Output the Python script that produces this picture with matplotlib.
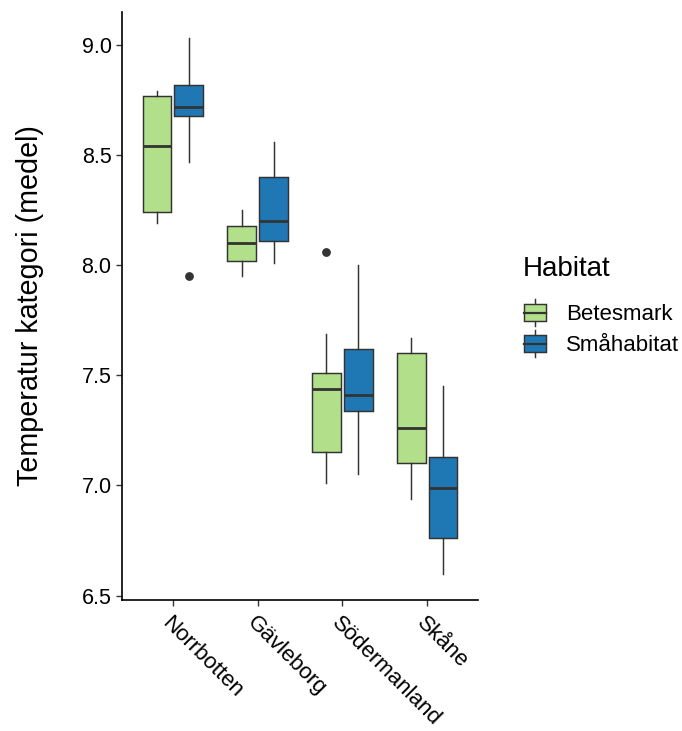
import matplotlib.pyplot as plt
from matplotlib.legend_handler import HandlerBase
from matplotlib.patches import Rectangle
from matplotlib.lines import Line2D

plt.rcParams['font.family'] = ['Liberation Sans', 'DejaVu Sans']

regions = ['Norrbotten', 'Gävleborg', 'Södermanland', 'Skåne']
habitats = ['Betesmark', 'Småhabitat']
colors = ['#B2DF8A', '#1F78B4']

# five-number summaries per region, one list per habitat
whislo = {'Betesmark': [8.19, 7.95, 7.01, 6.94], 'Småhabitat': [8.47, 8.01, 7.05, 6.60]}
q1 = {'Betesmark': [8.24, 8.02, 7.15, 7.10], 'Småhabitat': [8.68, 8.11, 7.34, 6.76]}
med = {'Betesmark': [8.54, 8.10, 7.44, 7.26], 'Småhabitat': [8.72, 8.20, 7.41, 6.99]}
q3 = {'Betesmark': [8.77, 8.18, 7.51, 7.60], 'Småhabitat': [8.82, 8.40, 7.62, 7.13]}
whishi = {'Betesmark': [8.79, 8.25, 7.69, 7.67], 'Småhabitat': [9.03, 8.56, 8.00, 7.45]}
fliers = {'Betesmark': [[], [], [8.06], []], 'Småhabitat': [[7.95], [], [], []]}

yticks = [6.5, 7.0, 7.5, 8.0, 8.5, 9.0]

edge = '#333333'

fig = plt.figure(figsize=(6.82, 7.31), dpi=100)
ax = fig.add_axes([122 / 682, 131 / 731, 356 / 682, 588 / 731])

dodge = 0.1875
for k, hab in enumerate(habitats):
    stats = []
    for i in range(len(regions)):
        stats.append(dict(whislo=whislo[hab][i], q1=q1[hab][i], med=med[hab][i],
                          q3=q3[hab][i], whishi=whishi[hab][i], fliers=fliers[hab][i]))
    pos = [i + 1 + (k * 2 - 1) * dodge for i in range(len(regions))]
    ax.bxp(stats, positions=pos, widths=0.34, patch_artist=True, showcaps=False,
           boxprops=dict(facecolor=colors[k], edgecolor=edge, linewidth=1.05),
           medianprops=dict(color=edge, linewidth=2.0, solid_capstyle='butt'),
           whiskerprops=dict(color=edge, linewidth=1.05),
           flierprops=dict(marker='o', markerfacecolor=edge, markeredgecolor=edge,
                           markersize=5.3))

ax.set_xlim(0.4, 4.6)
ax.set_ylim(6.48, 9.15)
ax.set_xticks(range(1, len(regions) + 1))
ax.set_xticklabels(regions, rotation=-45, ha='left', va='top', rotation_mode='anchor')
ax.set_yticks(yticks)
ax.set_yticklabels([f'{v:.1f}' for v in yticks])
ax.tick_params(axis='both', labelsize=15.5, colors=edge, labelcolor='black',
               length=4, width=1.0)
ax.tick_params(axis='x', labelsize=16, pad=5)
for s in ['top', 'right']:
    ax.spines[s].set_visible(False)
for s in ['left', 'bottom']:
    ax.spines[s].set_linewidth(1.2)
    ax.spines[s].set_color('black')
ax.set_ylabel('Temperatur kategori (medel)', fontsize=20.7, labelpad=27)


class BoxKey(HandlerBase):
    def create_artists(self, legend, orig_handle, xdescent, ydescent,
                       width, height, fontsize, trans):
        fc = orig_handle.get_facecolor()
        x0, y0 = -xdescent, -ydescent
        cx = x0 + width / 2
        whisk = Line2D([cx, cx], [y0 + 0.07 * height, y0 + 0.93 * height],
                       color=edge, linewidth=1.05, transform=trans)
        box = Rectangle((x0 + 0.125 * width, y0 + 0.24 * height), 0.75 * width,
                        0.52 * height, facecolor=fc, edgecolor=edge, linewidth=1.05,
                        transform=trans)
        mid = Line2D([x0 + 0.125 * width, x0 + 0.875 * width],
                     [y0 + 0.5 * height] * 2, color=edge, linewidth=1.6,
                     transform=trans)
        return [whisk, box, mid]


fig.text(523 / 682, 1 - 269 / 731, 'Habitat', fontsize=20, ha='left', va='center')

handles = [Rectangle((0, 0), 1, 1, facecolor=c) for c in colors]
leg = fig.legend(handles, habitats, handler_map={Rectangle: BoxKey()},
                 loc='upper left', bbox_to_anchor=(520 / 682, 1 - 297 / 731),
                 frameon=False, fontsize=16,
                 handlelength=1.35, handleheight=1.77, handletextpad=0.72,
                 labelspacing=0.0, borderpad=0, borderaxespad=0)

fig.savefig('out.png', dpi=100)
